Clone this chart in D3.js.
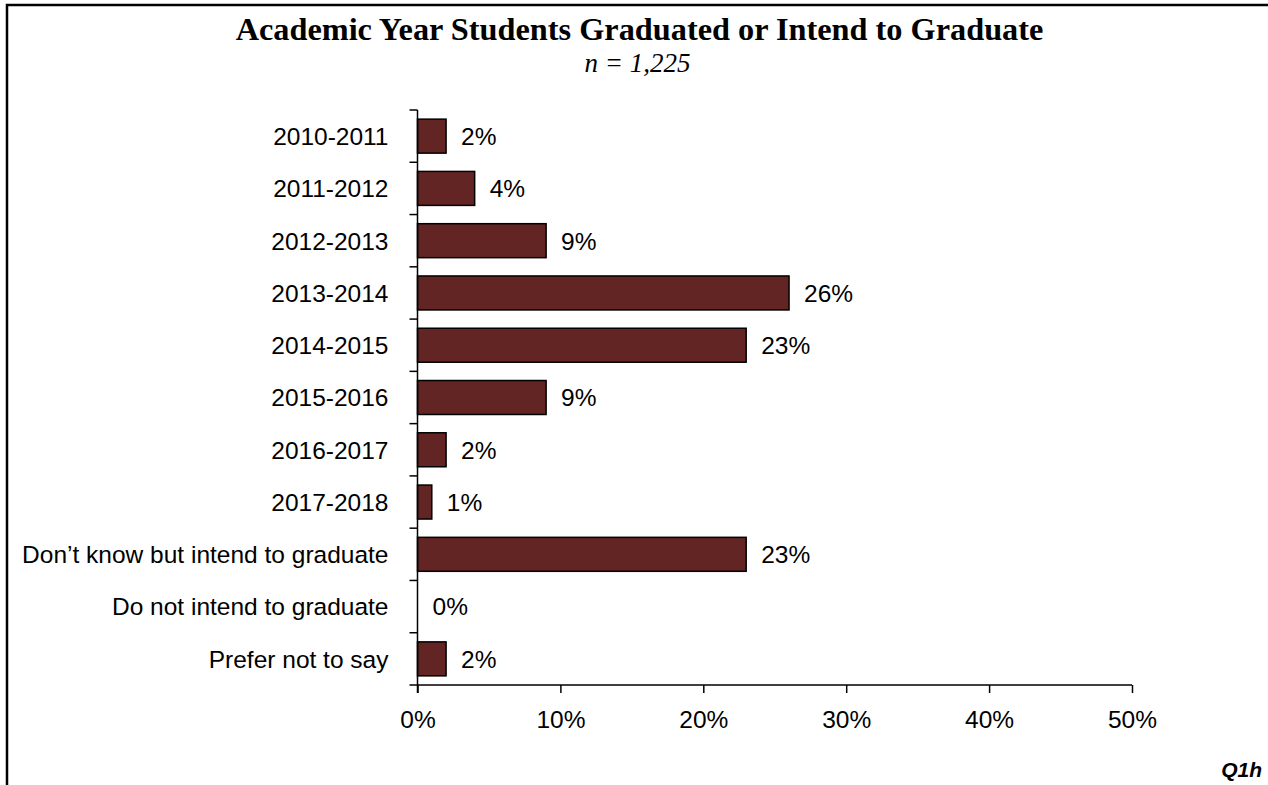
<!DOCTYPE html>
<html>
<head>
<meta charset="utf-8">
<script src="https://cdn.jsdelivr.net/npm/d3@7"></script>
<style>
  html, body { margin: 0; padding: 0; background: #fff; }
  svg { display: block; }
</style>
</head>
<body>
<svg id="chart" width="1268" height="785"></svg>
<script>
// Survey responses: academic year of graduation (percent of respondents)
const categories = [
  "2010-2011", "2011-2012", "2012-2013", "2013-2014", "2014-2015",
  "2015-2016", "2016-2017", "2017-2018",
  "Don\u2019t know but intend to graduate", "Do not intend to graduate", "Prefer not to say"
];
const values = [2, 4, 9, 26, 23, 9, 2, 1, 23, 0, 2];
const xTicks = [0, 10, 20, 30, 40, 50];
const titleText = "Academic Year Students Graduated or Intend to Graduate";
const subtitleText = "n = 1,225";
const footnoteText = "Q1h";

const svg = d3.select("#chart");
const W = 1268, H = 785;

// outer frame: left and top edges only
svg.append("path")
  .attr("d", `M7,${H} L7,5 L${W},5`)
  .attr("fill", "none").attr("stroke", "#000").attr("stroke-width", 2.5);

const plot = { left: 417.5, right: 1132, top: 110, bottom: 685 };

const x = d3.scaleLinear().domain([0, 50]).range([plot.left, plot.right]);
const y = d3.scaleBand().domain(categories).range([plot.top, plot.bottom])
  .paddingInner(0.35).paddingOuter(0.175);

const sans = "'Liberation Sans', Arial, sans-serif";
const serif = "'Liberation Serif', 'Times New Roman', serif";
const labelSize = 24.5;

// title block
svg.append("text").attr("x", 639.5).attr("y", 40)
  .attr("text-anchor", "middle").attr("font-family", serif)
  .attr("font-weight", "bold").attr("font-size", 32.3)
  .text(titleText);
svg.append("text").attr("x", 637.5).attr("y", 72)
  .attr("text-anchor", "middle").attr("font-family", serif)
  .attr("font-style", "italic").attr("font-size", 27)
  .text(subtitleText);

// bars
svg.append("g").selectAll("rect").data(values).join("rect")
  .attr("x", x(0))
  .attr("y", (d, i) => y(categories[i]))
  .attr("width", d => x(d) - x(0))
  .attr("height", y.bandwidth())
  .attr("fill", "#632523")
  .attr("stroke", "#000")
  .attr("stroke-width", d => d > 0 ? 1.5 : 0);

// value labels
svg.append("g").selectAll("text").data(values).join("text")
  .attr("x", d => x(d) + 15)
  .attr("y", (d, i) => y(categories[i]) + y.bandwidth() / 2)
  .attr("dy", "0.36em")
  .attr("font-family", sans).attr("font-size", labelSize).attr("fill", "#000")
  .text(d => d + "%");

// y axis: line with ticks at band boundaries
const yAxis = svg.append("g");
yAxis.append("line")
  .attr("x1", plot.left).attr("x2", plot.left)
  .attr("y1", plot.top).attr("y2", plot.bottom + 8)
  .attr("stroke", "#000").attr("stroke-width", 1.5);
const bounds = categories.map(c => y(c) - y.step() * y.paddingInner() / 2);
bounds[0] = plot.top;
yAxis.selectAll("line.tick").data(bounds).join("line").attr("class", "tick")
  .attr("x1", plot.left - 8).attr("x2", plot.left)
  .attr("y1", d => d).attr("y2", d => d)
  .attr("stroke", "#000").attr("stroke-width", 1.5);

// category labels
svg.append("g").selectAll("text").data(categories).join("text")
  .attr("x", plot.left - 29)
  .attr("y", d => y(d) + y.bandwidth() / 2)
  .attr("dy", "0.36em")
  .attr("text-anchor", "end")
  .attr("font-family", sans).attr("font-size", labelSize).attr("fill", "#000")
  .text(d => d);

// x axis
const xAxis = svg.append("g").attr("transform", `translate(0,${plot.bottom})`)
  .call(d3.axisBottom(x).tickValues(xTicks).tickFormat(d => d + "%")
    .tickSize(8).tickSizeOuter(0).tickPadding(18));
xAxis.select(".domain").remove();
xAxis.append("line")
  .attr("x1", plot.left - 8).attr("x2", plot.right)
  .attr("stroke", "#000").attr("stroke-width", 1.5);
xAxis.selectAll(".tick line").attr("stroke", "#000").attr("stroke-width", 1.5);
xAxis.selectAll(".tick text")
  .attr("font-family", sans).attr("font-size", labelSize).attr("fill", "#000");

// footnote
svg.append("text").attr("x", 1262).attr("y", 777)
  .attr("text-anchor", "end").attr("font-family", sans)
  .attr("font-weight", "bold").attr("font-style", "italic")
  .attr("font-size", 21).text(footnoteText);
</script>
</body>
</html>
